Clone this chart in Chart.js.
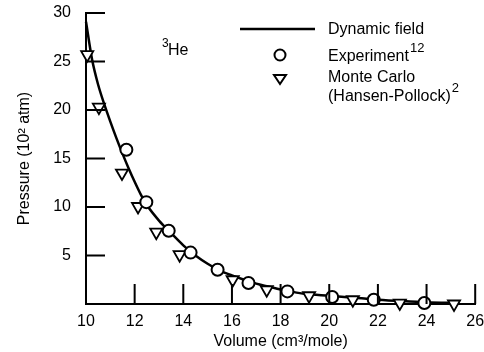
<!DOCTYPE html>
<html>
<head>
<meta charset="utf-8">
<script src="https://cdn.jsdelivr.net/npm/chart.js@4/dist/chart.umd.min.js"></script>
<style>
  body { margin: 0; background: #fff; }
  canvas { display: block; }
</style>
</head>
<body>
<canvas id="chart" width="484" height="352"></canvas>
<script>
// Dynamic field curve (volume in cm3/mole, pressure in 10^2 atm)
const curveVolume = [10.0, 10.25, 10.5, 10.75, 11.0, 11.25, 11.5, 11.75, 12.0, 12.25, 12.5, 13.0, 13.5, 14.0, 14.5, 15.0, 15.5, 16.0, 16.5, 17.0, 17.5, 18.0, 18.5, 19.0, 20.0, 21.0, 22.0, 23.0, 24.0, 25.3];
const curvePressure = [29.1, 25.2, 22.6, 20.6, 18.8, 17.1, 15.5, 14.0, 12.6, 11.3, 10.2, 8.6, 7.3, 6.05, 5.0, 4.15, 3.45, 2.95, 2.5, 2.1, 1.8, 1.5, 1.25, 1.05, 0.85, 0.65, 0.45, 0.3, 0.18, 0.1];

// Experiment points
const expVolume = [11.66, 12.48, 13.4, 14.3, 15.41, 16.68, 18.28, 20.12, 21.83, 23.91];
const expPressure = [15.9, 10.5, 7.55, 5.3, 3.53, 2.16, 1.3, 0.72, 0.44, 0.1];

// Monte Carlo (Hansen-Pollock) points
const mcVolume = [10.05, 10.53, 11.48, 12.14, 12.89, 13.85, 16.03, 17.43, 19.17, 20.97, 22.9, 25.13];
const mcPressure = [25.7, 20.3, 13.5, 10.05, 7.4, 5.08, 2.5, 1.47, 0.85, 0.44, 0.1, 0.0];

// Tick values
const xTicks = [10, 12, 14, 16, 18, 20, 22, 24, 26];
const yTicks = [0, 5, 10, 15, 20, 25, 30];

const FONT = '"Liberation Sans", Arial, sans-serif';

function toPoints(xs, ys) {
    return xs.map((x, i) => ({ x: x, y: ys[i] }));
}

// Inward tick marks on both axes
const tickMarks = {
    id: 'tickMarks',
    afterDraw(chart) {
        const ctx = chart.ctx;
        const xs = chart.scales.x;
        const ys = chart.scales.y;
        const area = chart.chartArea;
        ctx.save();
        ctx.strokeStyle = '#000';
        ctx.lineWidth = 2;
        ctx.beginPath();
        yTicks.forEach(v => {
            if (v === 0) return;
            const py = ys.getPixelForValue(v);
            ctx.moveTo(area.left, py);
            ctx.lineTo(area.left + 19, py);
        });
        xTicks.forEach(v => {
            if (v === 10) return;
            const px = xs.getPixelForValue(v);
            ctx.moveTo(px, area.bottom);
            ctx.lineTo(px, area.bottom - 20);
        });
        ctx.stroke();
        ctx.restore();
    }
};

// Text with a superscript part
function supText(ctx, x, y, base, sup, size, supRise) {
    ctx.font = size + 'px ' + FONT;
    ctx.fillText(base, x, y);
    const w = ctx.measureText(base).width;
    if (sup) {
        ctx.font = Math.round(size * 0.8) + 'px ' + FONT;
        ctx.fillText(sup, x + w + 1, y - supRise);
    }
}

// Legend and 3He label
const legendBox = {
    id: 'legendBox',
    afterDraw(chart) {
        const ctx = chart.ctx;
        ctx.save();
        ctx.fillStyle = '#000';
        ctx.strokeStyle = '#000';
        ctx.textBaseline = 'alphabetic';
        ctx.textAlign = 'left';

        // line sample
        ctx.lineWidth = 2.5;
        ctx.beginPath();
        ctx.moveTo(240, 29);
        ctx.lineTo(315, 29);
        ctx.stroke();

        // circle sample
        ctx.lineWidth = 2;
        ctx.beginPath();
        ctx.arc(280, 55, 5.5, 0, Math.PI * 2);
        ctx.stroke();

        // triangle sample
        ctx.beginPath();
        ctx.moveTo(274, 75);
        ctx.lineTo(286, 75);
        ctx.lineTo(280, 84);
        ctx.closePath();
        ctx.stroke();

        supText(ctx, 328, 34, 'Dynamic field', '', 16, 0);
        supText(ctx, 328, 61, 'Experiment', '12', 16, 9);
        supText(ctx, 328, 82, 'Monte Carlo', '', 16, 0);
        supText(ctx, 328, 101, '(Hansen-Pollock)', '2', 16, 9);

        // 3He
        ctx.font = '12px ' + FONT;
        ctx.fillText('3', 162, 47);
        ctx.font = '16px ' + FONT;
        ctx.fillText('He', 168, 54.5);
        ctx.restore();
    }
};

const config = {
    type: 'scatter',
    data: {
        datasets: [{
            label: 'Experiment',
            data: toPoints(expVolume, expPressure),
            pointStyle: 'circle',
            pointRadius: 6,
            borderColor: '#000',
            backgroundColor: '#fff',
            pointBorderWidth: 2,
            clip: false,
            order: 1
        }, {
            label: 'Monte Carlo',
            data: toPoints(mcVolume, mcPressure),
            pointStyle: 'triangle',
            rotation: 180,
            pointRadius: 7,
            borderColor: '#000',
            backgroundColor: '#fff',
            pointBorderWidth: 1.8,
            clip: false,
            order: 2
        }, {
            label: 'Dynamic field',
            data: toPoints(curveVolume, curvePressure),
            showLine: true,
            pointRadius: 0,
            borderColor: '#000',
            borderWidth: 2.5,
            cubicInterpolationMode: 'monotone',
            clip: false,
            order: 3
        }]
    },
    options: {
        responsive: false,
        devicePixelRatio: 1,
        animation: false,
        layout: {
            padding: { left: 0, right: 7, top: 13, bottom: 0 }
        },
        plugins: {
            legend: { display: false },
            tooltip: { enabled: false }
        },
        scales: {
            x: {
                type: 'linear',
                min: 10,
                max: 26,
                afterBuildTicks: (scale) => {
                    scale.ticks = xTicks.map(v => ({ value: v }));
                },
                ticks: {
                    color: '#000',
                    font: { family: FONT, size: 16 },
                    padding: 8,
                    maxRotation: 0
                },
                grid: { display: false, drawTicks: false },
                border: { display: true, color: '#000', width: 2 },
                title: {
                    display: true,
                    text: 'Volume (cm³/mole)',
                    color: '#000',
                    font: { family: FONT, size: 16 },
                    padding: { top: 0, bottom: 1 }
                },
                afterFit: (scale) => {
                    scale.height = 48;
                    scale.paddingLeft = 0;
                    scale.paddingRight = 0;
                }
            },
            y: {
                type: 'linear',
                min: 0,
                max: 30,
                afterBuildTicks: (scale) => {
                    scale.ticks = yTicks.map(v => ({ value: v }));
                },
                ticks: {
                    color: '#000',
                    font: { family: FONT, size: 16 },
                    padding: 15,
                    callback: (v) => v === 0 ? '' : v
                },
                grid: { display: false, drawTicks: false },
                border: { display: true, color: '#000', width: 2 },
                title: {
                    display: true,
                    text: 'Pressure (10² atm)',
                    color: '#000',
                    font: { family: FONT, size: 16 },
                    padding: { top: 15, bottom: 0 }
                },
                afterFit: (scale) => {
                    scale.width = 86;
                    scale.paddingTop = 0;
                    scale.paddingBottom = 0;
                }
            }
        }
    },
    plugins: [tickMarks, legendBox]
};

new Chart(document.getElementById('chart').getContext('2d'), config);
</script>
</body>
</html>
